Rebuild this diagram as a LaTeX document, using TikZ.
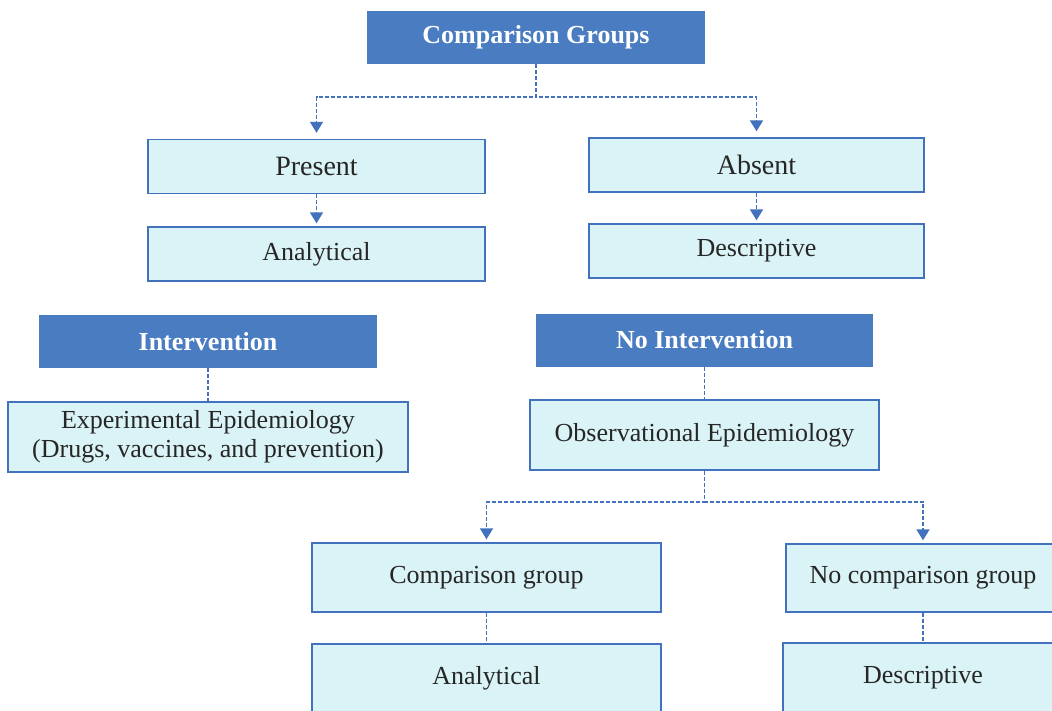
\documentclass[tikz,border=0pt]{standalone}
\usepackage{fontspec}
\setmainfont{Liberation Serif}
\usetikzlibrary{arrows.meta}
\definecolor{headblue}{RGB}{74,124,194}
\definecolor{boxfill}{RGB}{218,243,246}
\definecolor{linkblue}{RGB}{66,114,190}
\definecolor{inkgray}{RGB}{38,38,38}

\begin{document}
\begin{tikzpicture}[x=1pt, y=-1pt,
  head/.style={fill=headblue, text=white, font=\fontsize{26}{30}\selectfont\bfseries,
    minimum width=338pt, minimum height=53pt, inner sep=0pt},
  leaf/.style={draw=linkblue, line width=1.4pt, fill=boxfill, text=inkgray,
    font=\fontsize{26}{29}\selectfont, minimum height=54pt, inner sep=0pt, align=center},
  link/.style={linkblue, line width=1.7pt, dash pattern=on 4pt off 2pt},
  arr/.style={link, -{Triangle[width=13pt,length=11pt]}, shorten >=3pt}]
  \useasboundingbox[fill=white] (0,0) rectangle (1052,710);
  % Top tree
  \node[head] (groups) at (536,37.5) {Comparison Groups};
  \node[leaf, minimum width=337pt, font=\fontsize{28}{32}\selectfont] (present) at (316.5,166.5) {Present};
  \node[leaf, minimum width=337pt] (analytic) at (316.5,254) {Analytical};
  \node[leaf, minimum width=335pt, font=\fontsize{28}{32}\selectfont] (absent) at (756.5,165) {Absent};
  \node[leaf, minimum width=335pt] (descript) at (756.5,251) {Descriptive};
  % Intervention
  \node[head] (interv) at (208,341.5) {Intervention};
  \node[leaf, minimum width=400pt, minimum height=70pt] (experim) at (208,437)
    {Experimental Epidemiology\\(Drugs, vaccines, and prevention)};
  % No intervention
  \node[head, minimum width=337pt] (nointerv) at (704.5,340) {No Intervention};
  \node[leaf, minimum width=349pt, minimum height=70pt] (observ) at (704.5,435) {Observational Epidemiology};
  \node[leaf, minimum width=349pt, minimum height=69pt] (compgrp) at (486.5,577.5) {Comparison group};
  \node[leaf, minimum width=349pt, minimum height=69pt] (analytic2) at (486.5,678.5) {Analytical};
  \node[leaf, minimum width=274pt, minimum height=68pt] (nocomp) at (923,578) {No comparison group};
  \node[leaf, minimum width=280pt, minimum height=69pt] (descript2) at (923,677.5) {Descriptive};
  % Links
  \draw[arr, shorten >=6pt] (groups.south) -- ++(0,33) -| (present.north);
  \draw[arr, shorten >=6pt] (groups.south) -- ++(0,33) -| (absent.north);
  \draw[arr] (present.south) -- (analytic.north);
  \draw[arr] (absent.south) -- (descript.north);
  \draw[link] (interv.south) -- (experim.north);
  \draw[link] (nointerv.south) -- (observ.north);
  \draw[arr] (observ.south) -- ++(0,31) -| (compgrp.north);
  \draw[arr] (observ.south) -- ++(0,31) -| (nocomp.north);
  \draw[link] (compgrp.south) -- (analytic2.north);
  \draw[link] (nocomp.south) -- (descript2.north);
\end{tikzpicture}
\end{document}
